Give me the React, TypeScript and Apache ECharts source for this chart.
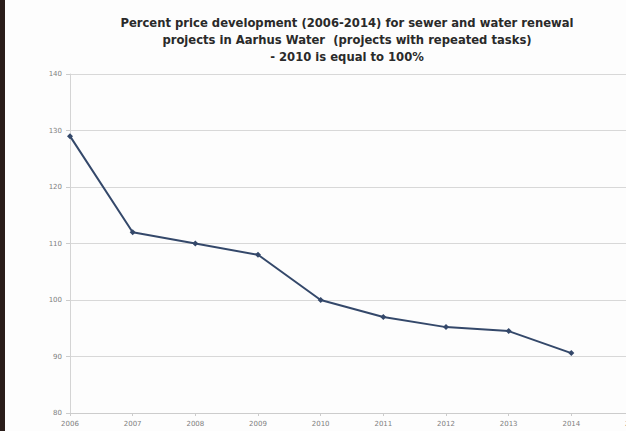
import React, { useEffect, useRef } from "react";
import * as echarts from "echarts";

const years = ["2006", "2007", "2008", "2009", "2010", "2011", "2012", "2013", "2014", "2015"];
const values = [129, 112, 110, 108, 100, 97, 95.2, 94.5, 90.6];
const titleLines = [
  "Percent price development (2006-2014) for sewer and water renewal",
  "projects in Aarhus Water  (projects with repeated tasks)",
  "- 2010 is equal to 100%",
];

export default function App() {
  const ref = useRef<HTMLDivElement>(null);
  useEffect(() => {
    if (!ref.current) return;
    const chart = echarts.init(ref.current, null, { renderer: "svg" });
    chart.setOption({
      animation: false,
      backgroundColor: "#fdfdfd",
      title: {
        text: titleLines.join("\n"),
        left: 342,
        textAlign: "center",
        top: 9,
        textStyle: {
          fontFamily: "DejaVu Sans, sans-serif",
          fontWeight: "bold",
          fontSize: 11.6,
          lineHeight: 17,
          color: "#2a2a2a",
        },
      },
      graphic: [
        {
          type: "rect",
          left: 0,
          top: 0,
          shape: { width: 5, height: 431 },
          style: { fill: "#2a1d1a" },
        },
      ],
      grid: { left: 70, top: 74, width: 564, height: 339, outerBoundsMode: "none", containLabel: false },
      xAxis: {
        type: "category",
        data: years,
        boundaryGap: false,
        axisLine: { show: true, lineStyle: { color: "#cccccc" } },
        axisTick: { show: true, length: 3, lineStyle: { color: "#cccccc" } },
        axisLabel: { color: "#808080", fontSize: 7, margin: 7, fontFamily: "DejaVu Sans" },
        splitLine: { show: false },
      },
      yAxis: {
        type: "value",
        min: 80,
        max: 140,
        interval: 10,
        axisLine: { show: true, lineStyle: { color: "#d4d4d4" } },
        axisTick: { show: true, length: 4, lineStyle: { color: "#cccccc" } },
        axisLabel: { color: "#808080", fontSize: 7, margin: 8, fontFamily: "DejaVu Sans" },
        splitLine: { show: true, lineStyle: { color: "#d8d8d8", width: 1.2 } },
      },
      series: [
        {
          type: "line",
          data: values,
          symbol: "diamond",
          symbolSize: 6,
          lineStyle: { color: "#34486a", width: 2 },
          itemStyle: { color: "#34486a" },
        },
      ],
    });
    return () => chart.dispose();
  }, []);
  return (
    <div
      ref={ref}
      style={{ position: "fixed", left: 0, top: 0, width: 626, height: 431 }}
    />
  );
}
